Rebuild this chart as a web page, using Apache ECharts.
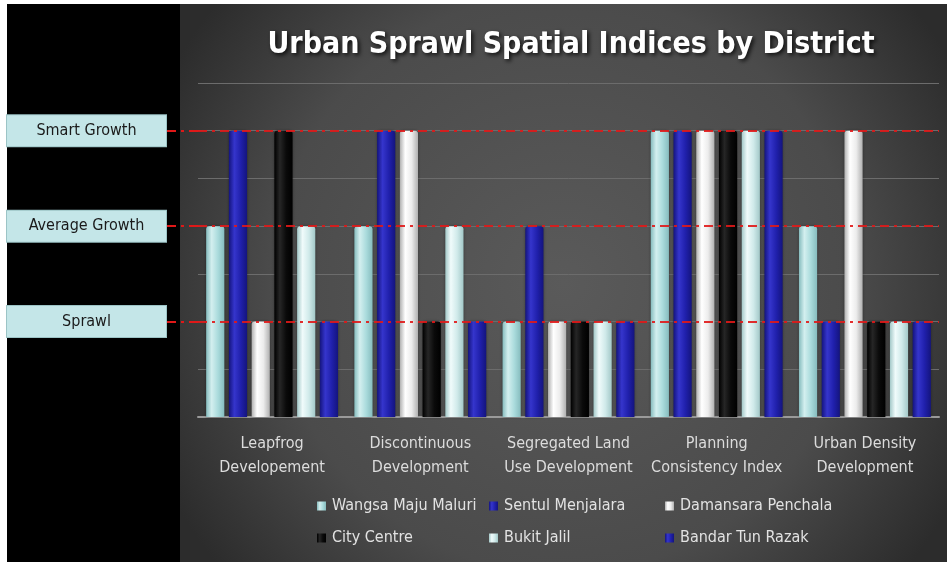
<!DOCTYPE html>
<html>
<head>
<meta charset="utf-8">
<title>Urban Sprawl Spatial Indices by District</title>
<script src="https://cdn.jsdelivr.net/npm/echarts@6/dist/echarts.min.js"></script>
<style>
  html, body { margin: 0; padding: 0; background: #fff; }
  #chart { width: 947px; height: 562px; }
</style>
</head>
<body>
<div id="chart"></div>
<script>
// categories / indices
const categories = [
  'Leapfrog\nDevelopement',
  'Discontinuous\nDevelopment',
  'Segregated Land\nUse Development',
  'Planning\nConsistency Index',
  'Urban Density\nDevelopment'
]
const districts = [
  'Wangsa Maju Maluri',
  'Sentul Menjalara',
  'Damansara Penchala',
  'City Centre',
  'Bukit Jalil',
  'Bandar Tun Razak'
]
// 2 = Sprawl, 4 = Average Growth, 6 = Smart Growth
const wangsaMaju = [4, 4, 2, 6, 4]
const sentul = [6, 6, 4, 6, 2]
const damansara = [2, 6, 2, 6, 6]
const cityCentre = [6, 2, 2, 6, 2]
const bukitJalil = [4, 4, 2, 6, 2]
const bandarTunRazak = [2, 2, 2, 6, 2]

const levelValues = [2, 4, 6]
const levelLabels = ['Sprawl', 'Average Growth', 'Smart Growth']
const yMax = 7

const FONT = '"Liberation Sans Narrow", "Arial Narrow", "DejaVu Sans Condensed", "Liberation Sans", sans-serif'
const RED_DASH = { color: '#e01818', width: 2, type: [9, 5, 3, 5] }

function barFill(edge, hi, mid) {
  return new echarts.graphic.LinearGradient(0, 0, 1, 0, [
    { offset: 0, color: edge },
    { offset: 0.3, color: hi },
    { offset: 0.65, color: mid },
    { offset: 1, color: edge }
  ])
}

const fills = [
  barFill('#86bcbe', '#d3efef', '#aadbdc'),
  barFill('#14147e', '#3535cc', '#2020ac'),
  barFill('#b0b0b0', '#ffffff', '#ececec'),
  barFill('#000000', '#262626', '#0a0a0a'),
  barFill('#a3c8c8', '#f0fbfb', '#d0eaea'),
  barFill('#14147e', '#3535cc', '#2020ac')
]
const seriesData = [wangsaMaju, sentul, damansara, cityCentre, bukitJalil, bandarTunRazak]

const chart = echarts.init(document.getElementById('chart'))

const series = districts.map(function (name, i) {
  const s = {
    name: name,
    type: 'bar',
    yAxisIndex: 0,
    data: seriesData[i],
    barGap: '25%',
    barCategoryGap: '11%',
    itemStyle: {
      color: fills[i],
      borderRadius: [3, 3, 0, 0],
      shadowColor: 'rgba(0,0,0,0.4)',
      shadowBlur: 3
    }
  }
  if (i === 0) {
    s.markLine = {
      silent: true,
      symbol: 'none',
      label: { show: false },
      lineStyle: Object.assign({ opacity: 0.9 }, RED_DASH),
      data: levelValues.map(function (v) { return { yAxis: v } }),
      z: 10
    }
  }
  return s
})

function legendCol(left, names) {
  return {
    orient: 'vertical',
    left: left,
    top: 498,
    padding: 0,
    itemGap: 16,
    itemWidth: 9,
    itemHeight: 9,
    icon: 'rect',
    data: names,
    selectedMode: false,
    textStyle: { color: '#e2e2e2', fontSize: 16, fontFamily: FONT, padding: [0, 0, 0, 1] }
  }
}

const option = {
  backgroundColor: '#ffffff',
  animation: false,
  graphic: {
    z: -10,
    elements: [
      { type: 'rect', silent: true, z: -10, shape: { x: 7, y: 4, width: 173, height: 558 }, style: { fill: '#000' } },
      {
        type: 'rect', silent: true, z: -10,
        shape: { x: 180, y: 4, width: 767, height: 558 },
        style: {
          fill: new echarts.graphic.RadialGradient(0.5, 0.5, 0.8, [
            { offset: 0, color: '#5a5a5a' },
            { offset: 0.65, color: '#4b4b4b' },
            { offset: 1, color: '#2c2c2c' }
          ])
        }
      }
    ]
  },
  title: {
    text: 'Urban Sprawl Spatial Indices by District',
    left: 566,
    textAlign: 'center',
    top: 25,
    textStyle: {
      color: '#ffffff',
      fontSize: 30,
      fontWeight: 'bold',
      fontFamily: FONT,
      textShadowColor: 'rgba(0,0,0,0.8)',
      textShadowBlur: 4,
      textShadowOffsetX: 2,
      textShadowOffsetY: 2
    }
  },
  legend: [
    legendCol(317, [districts[0], districts[3]]),
    legendCol(489, [districts[1], districts[4]]),
    legendCol(665, [districts[2], districts[5]])
  ],
  grid: {
    left: 198,
    right: 8,
    top: 83,
    bottom: 145,
    containLabel: false
  },
  xAxis: {
    type: 'category',
    data: categories,
    axisLine: { show: true, lineStyle: { color: '#9a9a9a', width: 2 } },
    axisTick: { show: false },
    axisLabel: {
      color: '#dcdcdc',
      fontSize: 16,
      lineHeight: 24,
      margin: 15,
      fontFamily: FONT,
      interval: 0
    }
  },
  yAxis: [
    {
      // value axis with the faint grid
      type: 'value',
      position: 'left',
      min: 0,
      max: yMax,
      interval: 1,
      axisLine: { show: false },
      axisTick: { show: false },
      axisLabel: { show: false },
      splitLine: { show: true, lineStyle: { color: '#6c6c6c', width: 1 } }
    },
    {
      // level labels on the left
      type: 'value',
      position: 'left',
      min: 0,
      max: yMax,
      interval: 1,
      axisLine: { show: false },
      splitLine: { show: false },
      axisTick: {
        show: true,
        length: 32,
        customValues: levelValues,
        lineStyle: RED_DASH
      },
      axisLabel: {
        margin: 32,
        customValues: levelValues,
        formatter: function (v) {
          const idx = levelValues.indexOf(v)
          return idx >= 0 ? '{box|' + levelLabels[idx] + '}' : ''
        },
        rich: {
          box: {
            width: 149,
            height: 27,
            padding: [2, 5, 2, 5],
            align: 'center',
            verticalAlign: 'middle',
            backgroundColor: '#c4e6e8',
            borderColor: '#9cc4c6',
            borderWidth: 1,
            color: '#1a1a1a',
            fontSize: 16,
            fontFamily: FONT
          }
        }
      }
    }
  ],
  series: series
}

chart.setOption(option)
</script>
</body>
</html>
